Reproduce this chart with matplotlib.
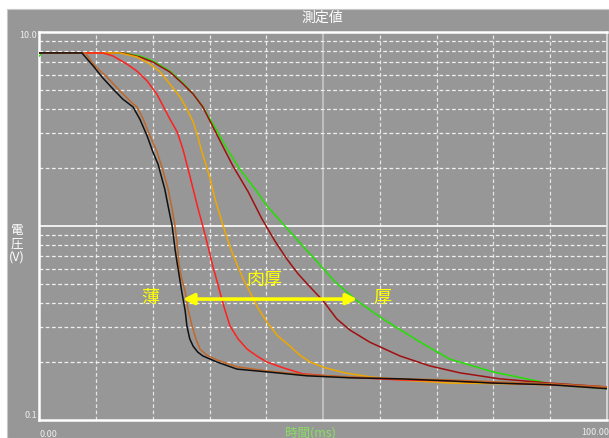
import matplotlib
matplotlib.use("Agg")
import matplotlib.pyplot as plt
from matplotlib.patches import Rectangle

plt.rcParams['font.family'] = ['Noto Sans CJK JP', 'DejaVu Sans']

# Discharge curves: time (ms) and voltage (V), thinnest to thickest
t_black = [0, 7.5, 9.5, 11.2, 13.0, 14.7, 16.5, 17.7, 19.0, 20.0, 20.9, 22.1, 22.8, 23.4,
           23.9, 24.3, 24.8, 25.1, 25.7, 26.0, 26.5, 27.1, 27.9, 28.8, 30.1, 31.3, 34.8,
           40.1, 47.1, 54.7, 63.5, 72.3, 79.9, 89.9, 100]
v_black = [7.8, 7.8, 6.68, 5.79, 5.08, 4.51, 4.11, 3.56, 2.91, 2.41, 2.09, 1.55, 1.22, 1.00,
           0.763, 0.639, 0.520, 0.458, 0.365, 0.305, 0.262, 0.240, 0.224, 0.214, 0.206, 0.199,
           0.183, 0.177, 0.169, 0.165, 0.163, 0.159, 0.155, 0.152, 0.145]

t_brown = [0, 8.1, 9.8, 11.9, 14.2, 16.5, 17.2, 18.3, 19.5, 20.7, 21.6, 22.7, 23.4, 23.9,
           24.3, 24.6, 25.1, 25.7, 26.2, 26.9, 27.6, 28.3, 29.5, 31.3, 34.8, 40.1, 47.1,
           54.7, 63.5, 72.3, 81.1, 89.9, 100]
v_brown = [7.8, 7.8, 6.68, 5.86, 4.97, 4.26, 4.11, 3.56, 2.91, 2.43, 2.01, 1.55, 1.22, 1.00,
           0.807, 0.637, 0.534, 0.458, 0.373, 0.305, 0.262, 0.232, 0.216, 0.204, 0.188, 0.179,
           0.171, 0.167, 0.163, 0.161, 0.157, 0.154, 0.148]

t_red = [0, 11.2, 13.0, 15.4, 17.2, 19.0, 20.7, 21.8, 23.0, 24.3, 25.3, 26.2, 27.1, 27.9,
         28.8, 29.7, 30.6, 31.3, 31.8, 32.7, 33.6, 35.0, 36.6, 38.3, 40.1, 42.9, 46.4,
         53.0, 63.5, 72.3, 81.1, 89.9, 100]
v_red = [7.8, 7.8, 7.52, 6.84, 6.29, 5.59, 4.79, 4.16, 3.56, 3.05, 2.49, 1.97, 1.55, 1.25,
         1.00, 0.790, 0.615, 0.520, 0.458, 0.369, 0.305, 0.262, 0.232, 0.214, 0.199, 0.186,
         0.173, 0.167, 0.161, 0.159, 0.155, 0.152, 0.148]

t_orange = [0, 14.2, 17.2, 19.5, 21.3, 23.0, 24.8, 26.0, 27.1, 27.9, 28.5, 29.2, 30.1, 31.1,
            32.4, 33.6, 35.0, 36.1, 37.1, 38.5, 40.1, 42.0, 44.2, 45.9, 47.7, 50.3, 53.8,
            58.2, 63.5, 72.3, 81.1, 89.9, 100]
v_orange = [7.8, 7.8, 7.43, 6.84, 6.22, 5.40, 4.62, 4.01, 3.44, 2.91, 2.49, 2.14, 1.75, 1.33,
            1.00, 0.780, 0.615, 0.520, 0.458, 0.378, 0.320, 0.271, 0.240, 0.216, 0.199, 0.186,
            0.175, 0.167, 0.161, 0.155, 0.154, 0.152, 0.146]

t_maroon = [0, 14.7, 17.7, 20.0, 23.0, 25.3, 27.1, 28.8, 30.6, 32.4, 34.1, 36.8, 39.2, 41.5,
            43.6, 45.6, 47.7, 50.0, 52.4, 54.7, 58.2, 63.5, 68.8, 74.1, 81.1, 89.9, 100]
v_maroon = [7.8, 7.8, 7.43, 7.00, 6.22, 5.40, 4.79, 4.11, 3.24, 2.55, 2.04, 1.50, 1.09, 0.837,
            0.676, 0.566, 0.485, 0.411, 0.332, 0.291, 0.252, 0.214, 0.190, 0.175, 0.163, 0.155,
            0.148]

t_green = [0, 0.5, 14.7, 17.7, 20.0, 23.0, 25.3, 27.1, 28.8, 30.9, 33.1, 35.3, 38.0, 40.1,
           44.2, 47.7, 52.1, 56.0, 60.5, 67.1, 72.3, 79.9, 89.9, 100]
v_green = [7.52, 7.8, 7.8, 7.52, 7.09, 6.29, 5.46, 4.79, 4.11, 3.24, 2.49, 1.97, 1.55, 1.27,
           0.931, 0.718, 0.515, 0.411, 0.332, 0.252, 0.206, 0.177, 0.154, 0.145]

series = [
    (t_green, v_green, '#22e000'),
    (t_maroon, v_maroon, '#a01010'),
    (t_orange, v_orange, '#f0a800'),
    (t_red, v_red, '#ff2020'),
    (t_brown, v_brown, '#c0682a'),
    (t_black, v_black, '#101010'),
]

title = '測定値'
x_label = '時間(ms)'
y_label = '電\n圧\n(V)'
y_ticklabels = ['10.0', '0.1']
x_ticklabels = ['0.00', '100.00']

W, H = 609, 439
fig = plt.figure(figsize=(W / 100, H / 100), dpi=100)
fig.patch.set_facecolor('white')

panel = '#979797'
bg = Rectangle((7 / W, 0), 1 - 7 / W, 1 - 10 / H, transform=fig.transFigure,
               facecolor=panel, edgecolor='#c8c8c8', linewidth=0.8, zorder=-10)
fig.patches.append(bg)

ax = fig.add_axes([39.3 / W, (H - 421) / H, (607 - 39.3) / W, (421 - 33) / H])
ax.set_zorder(1)
ax.set_facecolor(panel)
ax.set_yscale('log')
ax.set_xlim(0, 100)
ax.set_ylim(0.1, 10.0)

# grid
dash = (0, (3, 2))
for x in range(10, 100, 10):
    if x == 50:
        ax.axvline(x, color='#c8c8c8', lw=1.2, zorder=1)
    else:
        ax.axvline(x, color='#e6e6e6', lw=0.9, ls=dash, zorder=1)
for dec in (0.1, 1.0):
    for m in range(2, 10):
        ax.axhline(dec * m, color='#f0f0f0', lw=0.9, ls=dash, zorder=1)
ax.axhline(1.0, color='white', lw=1.2, zorder=1)

for t, v, c in series:
    ax.plot(t, v, color=c, lw=1.1, zorder=3)

for s in ax.spines.values():
    s.set_color('white')
    s.set_linewidth(1.8)
ax.spines['right'].set_color('#e0e0e0')
ax.spines['right'].set_linewidth(1.2)
ax.tick_params(left=False, bottom=False, labelleft=False, labelbottom=False,
               which='both')

# annotations
yellow = '#ffff00'
ax.annotate('', xy=(25.3, 0.42), xytext=(56.0, 0.42),
            arrowprops=dict(arrowstyle='<|-|>', color=yellow, lw=2.6,
                            mutation_scale=16, shrinkA=0, shrinkB=0), zorder=5)
ax.text(19.5, 0.43, '薄', color=yellow, fontsize=13, ha='center', va='center', zorder=5)
ax.text(39.7, 0.535, '肉厚', color=yellow, fontsize=13, ha='center', va='center', zorder=5)
ax.text(60.5, 0.43, '厚', color=yellow, fontsize=13, ha='center', va='center', zorder=5)

# labels
txt = '#eeeeee'
fig.text(322 / W, 1 - 18 / H, title, color='white', fontsize=10, ha='center', va='center')
fig.text(17 / W, 1 - 244 / H, y_label, color='white', fontsize=9, ha='center', va='center',
         linespacing=1.05)
fig.text(310 / W, 1 - 433 / H, x_label, color='#88e060', fontsize=9, ha='center', va='center')
fig.text(37 / W, 1 - 35 / H, y_ticklabels[0], color=txt, fontsize=6.5, ha='right', va='center')
fig.text(37 / W, 1 - 415 / H, y_ticklabels[1], color=txt, fontsize=6.5, ha='right', va='center')
fig.text(40 / W, 1 - 435 / H, x_ticklabels[0], color=txt, fontsize=6.5, ha='left', va='center')
fig.text(609 / W, 1 - 433 / H, x_ticklabels[1], color=txt, fontsize=6.5, ha='right', va='center')

fig.savefig('out.png', dpi=100, facecolor=fig.get_facecolor())
